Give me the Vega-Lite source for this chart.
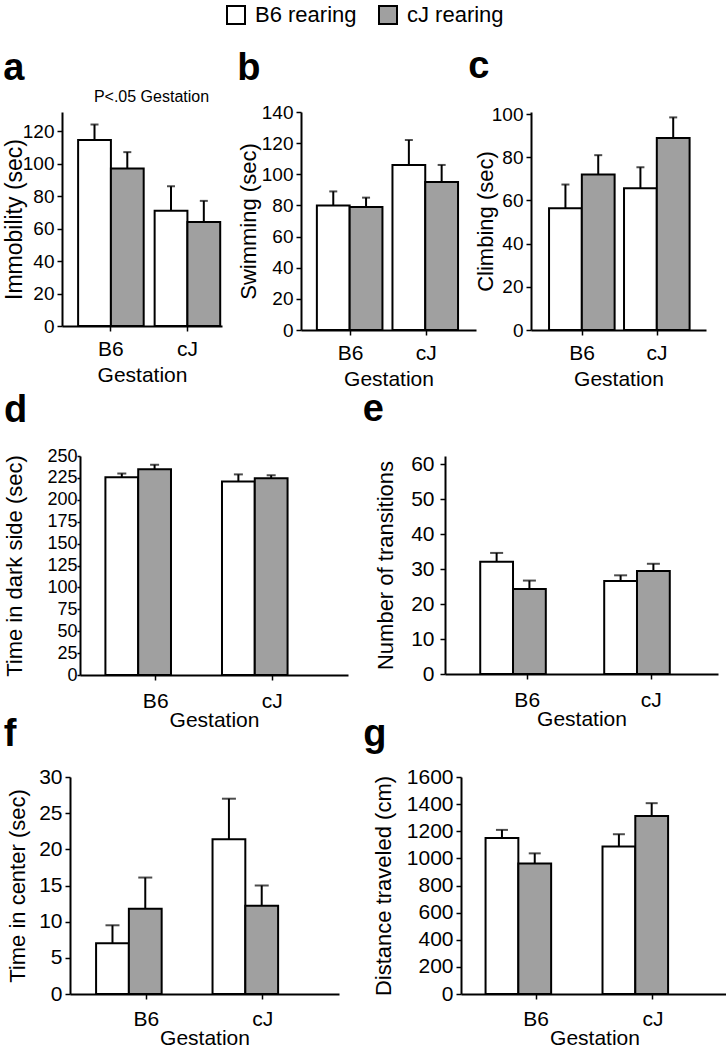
{
  "$schema": "https://vega.github.io/schema/vega-lite/v6.json",
  "padding": {"left": 3, "top": 3, "right": 0, "bottom": 0},
  "config": {
    "font": "Liberation Sans",
    "view": {"stroke": null},
    "axis": {"domainColor": "black", "domainWidth": 2, "tickColor": "black", "tickWidth": 1.5, "tickSize": 5, "labelColor": "black", "titleColor": "black", "labelFontSize": 21, "titleFontSize": 21, "titleFontWeight": "normal", "grid": false, "labelFont": "Liberation Sans", "titleFont": "Liberation Sans", "labelOverlap": false, "labelSeparation": -45},
    "axisX": {"labelAngle": 0, "labelPadding": 7, "titlePadding": 6},
    "axisY": {"labelPadding": 3, "titleFontSize": 22, "labelSeparation": -45},
    "title": {"font": "Liberation Sans", "fontSize": 38, "fontWeight": "bold", "color": "black", "anchor": "start", "frame": "bounds"}
  },
  "datasets": {
    "a": [
      {"gestation": "B6", "rearing": "B6", "mean": 114.5, "err": 124},
      {"gestation": "B6", "rearing": "cJ", "mean": 97, "err": 107},
      {"gestation": "cJ", "rearing": "B6", "mean": 71, "err": 86},
      {"gestation": "cJ", "rearing": "cJ", "mean": 64, "err": 77}
    ],
    "b": [
      {"gestation": "B6", "rearing": "B6", "mean": 80, "err": 89},
      {"gestation": "B6", "rearing": "cJ", "mean": 79, "err": 85},
      {"gestation": "cJ", "rearing": "B6", "mean": 106, "err": 122},
      {"gestation": "cJ", "rearing": "cJ", "mean": 95, "err": 106}
    ],
    "c": [
      {"gestation": "B6", "rearing": "B6", "mean": 56.4, "err": 67.4},
      {"gestation": "B6", "rearing": "cJ", "mean": 72, "err": 81},
      {"gestation": "cJ", "rearing": "B6", "mean": 65.7, "err": 75.4},
      {"gestation": "cJ", "rearing": "cJ", "mean": 89, "err": 98.5}
    ],
    "d": [
      {"gestation": "B6", "rearing": "B6", "mean": 225.6, "err": 230},
      {"gestation": "B6", "rearing": "cJ", "mean": 235, "err": 240},
      {"gestation": "cJ", "rearing": "B6", "mean": 221, "err": 229},
      {"gestation": "cJ", "rearing": "cJ", "mean": 224.6, "err": 228}
    ],
    "e": [
      {"gestation": "B6", "rearing": "B6", "mean": 32.1, "err": 34.6},
      {"gestation": "B6", "rearing": "cJ", "mean": 24.3, "err": 26.7},
      {"gestation": "cJ", "rearing": "B6", "mean": 26.6, "err": 28.2},
      {"gestation": "cJ", "rearing": "cJ", "mean": 29.4, "err": 31.5}
    ],
    "f": [
      {"gestation": "B6", "rearing": "B6", "mean": 7.0, "err": 9.5},
      {"gestation": "B6", "rearing": "cJ", "mean": 11.8, "err": 16.1},
      {"gestation": "cJ", "rearing": "B6", "mean": 21.4, "err": 27.0},
      {"gestation": "cJ", "rearing": "cJ", "mean": 12.2, "err": 15.0}
    ],
    "g": [
      {"gestation": "B6", "rearing": "B6", "mean": 1150, "err": 1210},
      {"gestation": "B6", "rearing": "cJ", "mean": 963, "err": 1037},
      {"gestation": "cJ", "rearing": "B6", "mean": 1088, "err": 1178},
      {"gestation": "cJ", "rearing": "cJ", "mean": 1313, "err": 1407}
    ]
  },
  "resolve": {"scale": {"fill": "independent"}, "legend": {"fill": "independent"}},
  "align": "none",
  "spacing": 20,
  "vconcat": [
    {
      "width": 1, "height": 1,
      "data": {"name": "a"},
      "mark": {"type": "square", "size": 0},
      "encoding": {
        "fill": {"field": "rearing", "type": "nominal", "scale": {"domain": ["B6", "cJ"], "range": ["#ffffff", "#a0a0a0"]},
          "legend": {"orient": "none", "legendX": 222, "legendY": 1, "direction": "horizontal", "title": null, "labelExpr": "datum.label + ' rearing'", "symbolType": "square", "symbolSize": 324, "symbolStrokeColor": "black", "symbolStrokeWidth": 2, "symbolOpacity": 1, "labelFontSize": 22, "labelFont": "Liberation Sans", "labelColor": "black", "columnPadding": 18, "labelOffset": 8}}
      }
    },
    {
      "resolve": {"scale": {"fill": "independent"}, "legend": {"fill": "independent"}},
      "align": "none",
      "spacing": 2,
      "vconcat": [
        {
          "resolve": {"scale": {"fill": "independent"}, "legend": {"fill": "independent"}},
          "spacing": -1,
          "hconcat": [
            {"width": 1, "height": 1, "data": {"values": []}, "mark": "point"},
            {
              "resolve": {"scale": {"fill": "independent"}, "legend": {"fill": "independent"}},
              "spacing": 15,
              "hconcat": [
                {
                  "width": 160, "height": 214,
                  "data": {"name": "a"},
                  "title": {"text": "a", "offset": 0},
                  "resolve": {"axis": {"x": "independent"}},
                  "layer": [
                    {"mark": {"type": "bar", "stroke": "black", "strokeWidth": 2},
                     "encoding": {
                       "x": {"field": "gestation", "type": "nominal", "title": "Gestation", "scale": {"paddingInner": 0.143, "paddingOuter": 0.117, "align": 0.9}, "axis": {"labelPadding": 7, "titlePadding": 5}},
                       "xOffset": {"field": "rearing", "type": "nominal", "scale": {"paddingInner": 0, "paddingOuter": 0}},
                       "y": {"field": "mean", "type": "quantitative", "title": "Immobility (sec)", "scale": {"domain": [0, 131.7], "nice": false}, "axis": {"values": [0, 20, 40, 60, 80, 100, 120], "labelOverlap": false, "labelFontSize": 19, "titlePadding": -4, "titleFontSize": 23}},
                       "fill": {"field": "rearing", "type": "nominal", "scale": {"domain": ["B6", "cJ"], "range": ["#ffffff", "#a0a0a0"]}, "legend": null}
                     }},
                    {"mark": {"type": "rule", "strokeWidth": 2, "color": "black"},
                     "encoding": {
                       "x": {"field": "gestation", "type": "nominal", "title": "P<.05 Gestation", "axis": {"orient": "top", "labels": false, "ticks": false, "domain": false, "titleFontSize": 16, "titlePadding": 8, "titleX": 89}},
                       "xOffset": {"field": "rearing", "type": "nominal"},
                       "y": {"field": "mean", "type": "quantitative", "title": "Immobility (sec)", "scale": {"domain": [0, 131.7], "nice": false}, "axis": {"values": [0, 20, 40, 60, 80, 100, 120], "labelOverlap": false, "labelFontSize": 19, "titlePadding": -4, "titleFontSize": 23}},
                       "y2": {"field": "err"}
                     }},
                    {"mark": {"type": "tick", "size": 8, "thickness": 2, "color": "black"},
                     "encoding": {
                       "x": {"field": "gestation", "type": "nominal", "axis": null},
                       "xOffset": {"field": "rearing", "type": "nominal"},
                       "y": {"field": "err", "type": "quantitative", "title": "Immobility (sec)", "scale": {"domain": [0, 131.7], "nice": false}, "axis": {"values": [0, 20, 40, 60, 80, 100, 120], "labelOverlap": false, "labelFontSize": 19, "titlePadding": -4, "titleFontSize": 23}}
                     }}
                  ]
                },
                {
                  "resolve": {"scale": {"fill": "independent"}, "legend": {"fill": "independent"}},
                  "spacing": -8,
                  "hconcat": [
                    {
                      "width": 175, "height": 218,
                      "data": {"name": "b"},
                      "title": {"text": "b", "offset": 15},
                      "encoding": {
                        "x": {"field": "gestation", "type": "nominal", "title": "Gestation", "scale": {"paddingInner": 0.105, "paddingOuter": 0.21}, "axis": {"labelPadding": 7, "titlePadding": 5}},
                        "xOffset": {"field": "rearing", "type": "nominal", "scale": {"paddingInner": 0, "paddingOuter": 0}}
                      },
                      "layer": [
                        {"mark": {"type": "bar", "stroke": "black", "strokeWidth": 2},
                         "encoding": {
                           "y": {"field": "mean", "type": "quantitative", "title": "Swimming (sec)", "scale": {"domain": [0, 140], "nice": false}, "axis": {"values": [0, 20, 40, 60, 80, 100, 120, 140], "labelOverlap": false, "labelFontSize": 19, "titlePadding": 1}},
                           "fill": {"field": "rearing", "type": "nominal", "scale": {"domain": ["B6", "cJ"], "range": ["#ffffff", "#a0a0a0"]}, "legend": null}
                         }},
                        {"mark": {"type": "rule", "strokeWidth": 2, "color": "black"},
                         "encoding": {
                           "y": {"field": "mean", "type": "quantitative", "title": "Swimming (sec)", "scale": {"domain": [0, 140], "nice": false}, "axis": {"values": [0, 20, 40, 60, 80, 100, 120, 140], "labelOverlap": false, "labelFontSize": 19, "titlePadding": 1}},
                           "y2": {"field": "err"}
                         }},
                        {"mark": {"type": "tick", "size": 8, "thickness": 2, "color": "black"},
                         "encoding": {
                           "y": {"field": "err", "type": "quantitative", "title": "Swimming (sec)", "scale": {"domain": [0, 140], "nice": false}, "axis": {"values": [0, 20, 40, 60, 80, 100, 120, 140], "labelOverlap": false, "labelFontSize": 19, "titlePadding": 1}}
                         }}
                      ]
                    },
                    {
                      "width": 175, "height": 218,
                      "data": {"name": "c"},
                      "title": {"text": "c", "offset": 19, "dx": -6},
                      "encoding": {
                        "x": {"field": "gestation", "type": "nominal", "title": "Gestation", "scale": {"paddingInner": 0.12, "paddingOuter": 0.227, "align": 0.53}, "axis": {"labelPadding": 7, "titlePadding": 5}},
                        "xOffset": {"field": "rearing", "type": "nominal", "scale": {"paddingInner": 0, "paddingOuter": 0}}
                      },
                      "layer": [
                        {"mark": {"type": "bar", "stroke": "black", "strokeWidth": 2},
                         "encoding": {
                           "y": {"field": "mean", "type": "quantitative", "title": "Climbing (sec)", "scale": {"domain": [0, 101], "nice": false}, "axis": {"values": [0, 20, 40, 60, 80, 100], "labelOverlap": false, "labelFontSize": 19, "titlePadding": -6}},
                           "fill": {"field": "rearing", "type": "nominal", "scale": {"domain": ["B6", "cJ"], "range": ["#ffffff", "#a0a0a0"]}, "legend": null}
                         }},
                        {"mark": {"type": "rule", "strokeWidth": 2, "color": "black"},
                         "encoding": {
                           "y": {"field": "mean", "type": "quantitative", "title": "Climbing (sec)", "scale": {"domain": [0, 101], "nice": false}, "axis": {"values": [0, 20, 40, 60, 80, 100], "labelOverlap": false, "labelFontSize": 19, "titlePadding": -6}},
                           "y2": {"field": "err"}
                         }},
                        {"mark": {"type": "tick", "size": 8, "thickness": 2, "color": "black"},
                         "encoding": {
                           "y": {"field": "err", "type": "quantitative", "title": "Climbing (sec)", "scale": {"domain": [0, 101], "nice": false}, "axis": {"values": [0, 20, 40, 60, 80, 100], "labelOverlap": false, "labelFontSize": 19, "titlePadding": -6}}
                         }}
                      ]
                    }
                  ]
                }
              ]
            }
          ]
        },
        {
          "resolve": {"scale": {"fill": "independent"}, "legend": {"fill": "independent"}},
          "align": "none",
          "spacing": -14,
          "vconcat": [
            {
              "resolve": {"scale": {"fill": "independent"}, "legend": {"fill": "independent"}},
              "spacing": -1,
              "hconcat": [
                {"width": 1, "height": 1, "data": {"values": []}, "mark": "point"},
                {
                  "resolve": {"scale": {"fill": "independent"}, "legend": {"fill": "independent"}},
                  "spacing": 14,
                  "hconcat": [
                    {
                      "width": 268, "height": 219,
                      "data": {"name": "d"},
                      "title": {"text": "d", "offset": 17},
                      "encoding": {
                        "x": {"field": "gestation", "type": "nominal", "title": "Gestation", "scale": {"paddingInner": 0.137, "paddingOuter": 0.218}, "axis": {"labelPadding": 10, "titlePadding": -2}},
                        "xOffset": {"field": "rearing", "type": "nominal", "scale": {"paddingInner": 0, "paddingOuter": 0}}
                      },
                      "layer": [
                        {"mark": {"type": "bar", "stroke": "black", "strokeWidth": 2},
                         "encoding": {
                           "y": {"field": "mean", "type": "quantitative", "title": "Time in dark side (sec)", "scale": {"domain": [0, 250], "nice": false}, "axis": {"values": [0, 25, 50, 75, 100, 125, 150, 175, 200, 225, 250], "labelOverlap": false, "labelFontSize": 18, "tickSize": 3, "labelPadding": 0, "titlePadding": 20}},
                           "fill": {"field": "rearing", "type": "nominal", "scale": {"domain": ["B6", "cJ"], "range": ["#ffffff", "#a0a0a0"]}, "legend": null}
                         }},
                        {"mark": {"type": "rule", "strokeWidth": 2, "color": "black"},
                         "encoding": {
                           "y": {"field": "mean", "type": "quantitative", "title": "Time in dark side (sec)", "scale": {"domain": [0, 250], "nice": false}, "axis": {"values": [0, 25, 50, 75, 100, 125, 150, 175, 200, 225, 250], "labelOverlap": false, "labelFontSize": 18, "tickSize": 3, "labelPadding": 0, "titlePadding": 20}},
                           "y2": {"field": "err"}
                         }},
                        {"mark": {"type": "tick", "size": 9, "thickness": 2, "color": "black"},
                         "encoding": {
                           "y": {"field": "err", "type": "quantitative", "title": "Time in dark side (sec)", "scale": {"domain": [0, 250], "nice": false}, "axis": {"values": [0, 25, 50, 75, 100, 125, 150, 175, 200, 225, 250], "labelOverlap": false, "labelFontSize": 18, "tickSize": 3, "labelPadding": 0, "titlePadding": 20}}
                         }}
                      ]
                    },
                    {
                      "width": 273, "height": 218,
                      "data": {"name": "e"},
                      "title": {"text": "e", "offset": 24, "dx": -12},
                      "encoding": {
                        "x": {"field": "gestation", "type": "nominal", "title": "Gestation", "scale": {"paddingInner": 0.242, "paddingOuter": 0.222, "align": 0.64}, "axis": {"labelPadding": 10, "titlePadding": -2}},
                        "xOffset": {"field": "rearing", "type": "nominal", "scale": {"paddingInner": 0, "paddingOuter": 0}}
                      },
                      "layer": [
                        {"mark": {"type": "bar", "stroke": "black", "strokeWidth": 2},
                         "encoding": {
                           "y": {"field": "mean", "type": "quantitative", "title": "Number of transitions", "scale": {"domain": [0, 62.3], "nice": false}, "axis": {"values": [0, 10, 20, 30, 40, 50, 60], "labelOverlap": false, "labelPadding": 6, "titlePadding": 13}},
                           "fill": {"field": "rearing", "type": "nominal", "scale": {"domain": ["B6", "cJ"], "range": ["#ffffff", "#a0a0a0"]}, "legend": null}
                         }},
                        {"mark": {"type": "rule", "strokeWidth": 2, "color": "black"},
                         "encoding": {
                           "y": {"field": "mean", "type": "quantitative", "title": "Number of transitions", "scale": {"domain": [0, 62.3], "nice": false}, "axis": {"values": [0, 10, 20, 30, 40, 50, 60], "labelOverlap": false, "labelPadding": 6, "titlePadding": 13}},
                           "y2": {"field": "err"}
                         }},
                        {"mark": {"type": "tick", "size": 13, "thickness": 2, "color": "black"},
                         "encoding": {
                           "y": {"field": "err", "type": "quantitative", "title": "Number of transitions", "scale": {"domain": [0, 62.3], "nice": false}, "axis": {"values": [0, 10, 20, 30, 40, 50, 60], "labelOverlap": false, "labelPadding": 6, "titlePadding": 13}}
                         }}
                      ]
                    }
                  ]
                }
              ]
            },
            {
              "resolve": {"scale": {"fill": "independent"}, "legend": {"fill": "independent"}},
              "spacing": -1,
              "hconcat": [
                {"width": 1, "height": 1, "data": {"values": []}, "mark": "point"},
                {
                  "resolve": {"scale": {"fill": "independent"}, "legend": {"fill": "independent"}},
                  "spacing": 24,
                  "hconcat": [
                    {
                      "width": 269, "height": 217,
                      "data": {"name": "f"},
                      "title": {"text": "f", "offset": 12, "dx": -3},
                      "encoding": {
                        "x": {"field": "gestation", "type": "nominal", "title": "Gestation", "scale": {"paddingInner": 0.138, "paddingOuter": 0.224}, "axis": {"labelPadding": 9, "titlePadding": -2}},
                        "xOffset": {"field": "rearing", "type": "nominal", "scale": {"paddingInner": 0, "paddingOuter": 0}}
                      },
                      "layer": [
                        {"mark": {"type": "bar", "stroke": "black", "strokeWidth": 2},
                         "encoding": {
                           "y": {"field": "mean", "type": "quantitative", "title": "Time in center (sec)", "scale": {"domain": [0, 30], "nice": false}, "axis": {"values": [0, 5, 10, 15, 20, 25, 30], "labelOverlap": false, "titlePadding": 9}},
                           "fill": {"field": "rearing", "type": "nominal", "scale": {"domain": ["B6", "cJ"], "range": ["#ffffff", "#a0a0a0"]}, "legend": null}
                         }},
                        {"mark": {"type": "rule", "strokeWidth": 2, "color": "black"},
                         "encoding": {
                           "y": {"field": "mean", "type": "quantitative", "title": "Time in center (sec)", "scale": {"domain": [0, 30], "nice": false}, "axis": {"values": [0, 5, 10, 15, 20, 25, 30], "labelOverlap": false, "titlePadding": 9}},
                           "y2": {"field": "err"}
                         }},
                        {"mark": {"type": "tick", "size": 14, "thickness": 2, "color": "black"},
                         "encoding": {
                           "y": {"field": "err", "type": "quantitative", "title": "Time in center (sec)", "scale": {"domain": [0, 30], "nice": false}, "axis": {"values": [0, 5, 10, 15, 20, 25, 30], "labelOverlap": false, "titlePadding": 9}}
                         }}
                      ]
                    },
                    {
                      "width": 267, "height": 217,
                      "data": {"name": "g"},
                      "title": {"text": "g", "offset": 12, "dx": -9},
                      "encoding": {
                        "x": {"field": "gestation", "type": "nominal", "title": "Gestation", "scale": {"paddingInner": 0.137, "paddingOuter": 0.21}, "axis": {"labelPadding": 9, "titlePadding": -2}},
                        "xOffset": {"field": "rearing", "type": "nominal", "scale": {"paddingInner": 0, "paddingOuter": 0}}
                      },
                      "layer": [
                        {"mark": {"type": "bar", "stroke": "black", "strokeWidth": 2},
                         "encoding": {
                           "y": {"field": "mean", "type": "quantitative", "title": "Distance traveled (cm)", "scale": {"domain": [0, 1600], "nice": false}, "axis": {"values": [0, 200, 400, 600, 800, 1000, 1200, 1400, 1600], "format": "d", "labelOverlap": false, "titlePadding": 11}},
                           "fill": {"field": "rearing", "type": "nominal", "scale": {"domain": ["B6", "cJ"], "range": ["#ffffff", "#a0a0a0"]}, "legend": null}
                         }},
                        {"mark": {"type": "rule", "strokeWidth": 2, "color": "black"},
                         "encoding": {
                           "y": {"field": "mean", "type": "quantitative", "title": "Distance traveled (cm)", "scale": {"domain": [0, 1600], "nice": false}, "axis": {"values": [0, 200, 400, 600, 800, 1000, 1200, 1400, 1600], "format": "d", "labelOverlap": false, "titlePadding": 11}},
                           "y2": {"field": "err"}
                         }},
                        {"mark": {"type": "tick", "size": 12, "thickness": 2, "color": "black"},
                         "encoding": {
                           "y": {"field": "err", "type": "quantitative", "title": "Distance traveled (cm)", "scale": {"domain": [0, 1600], "nice": false}, "axis": {"values": [0, 200, 400, 600, 800, 1000, 1200, 1400, 1600], "format": "d", "labelOverlap": false, "titlePadding": 11}}
                         }}
                      ]
                    }
                  ]
                }
              ]
            }
          ]
        }
      ]
    }
  ]
}
